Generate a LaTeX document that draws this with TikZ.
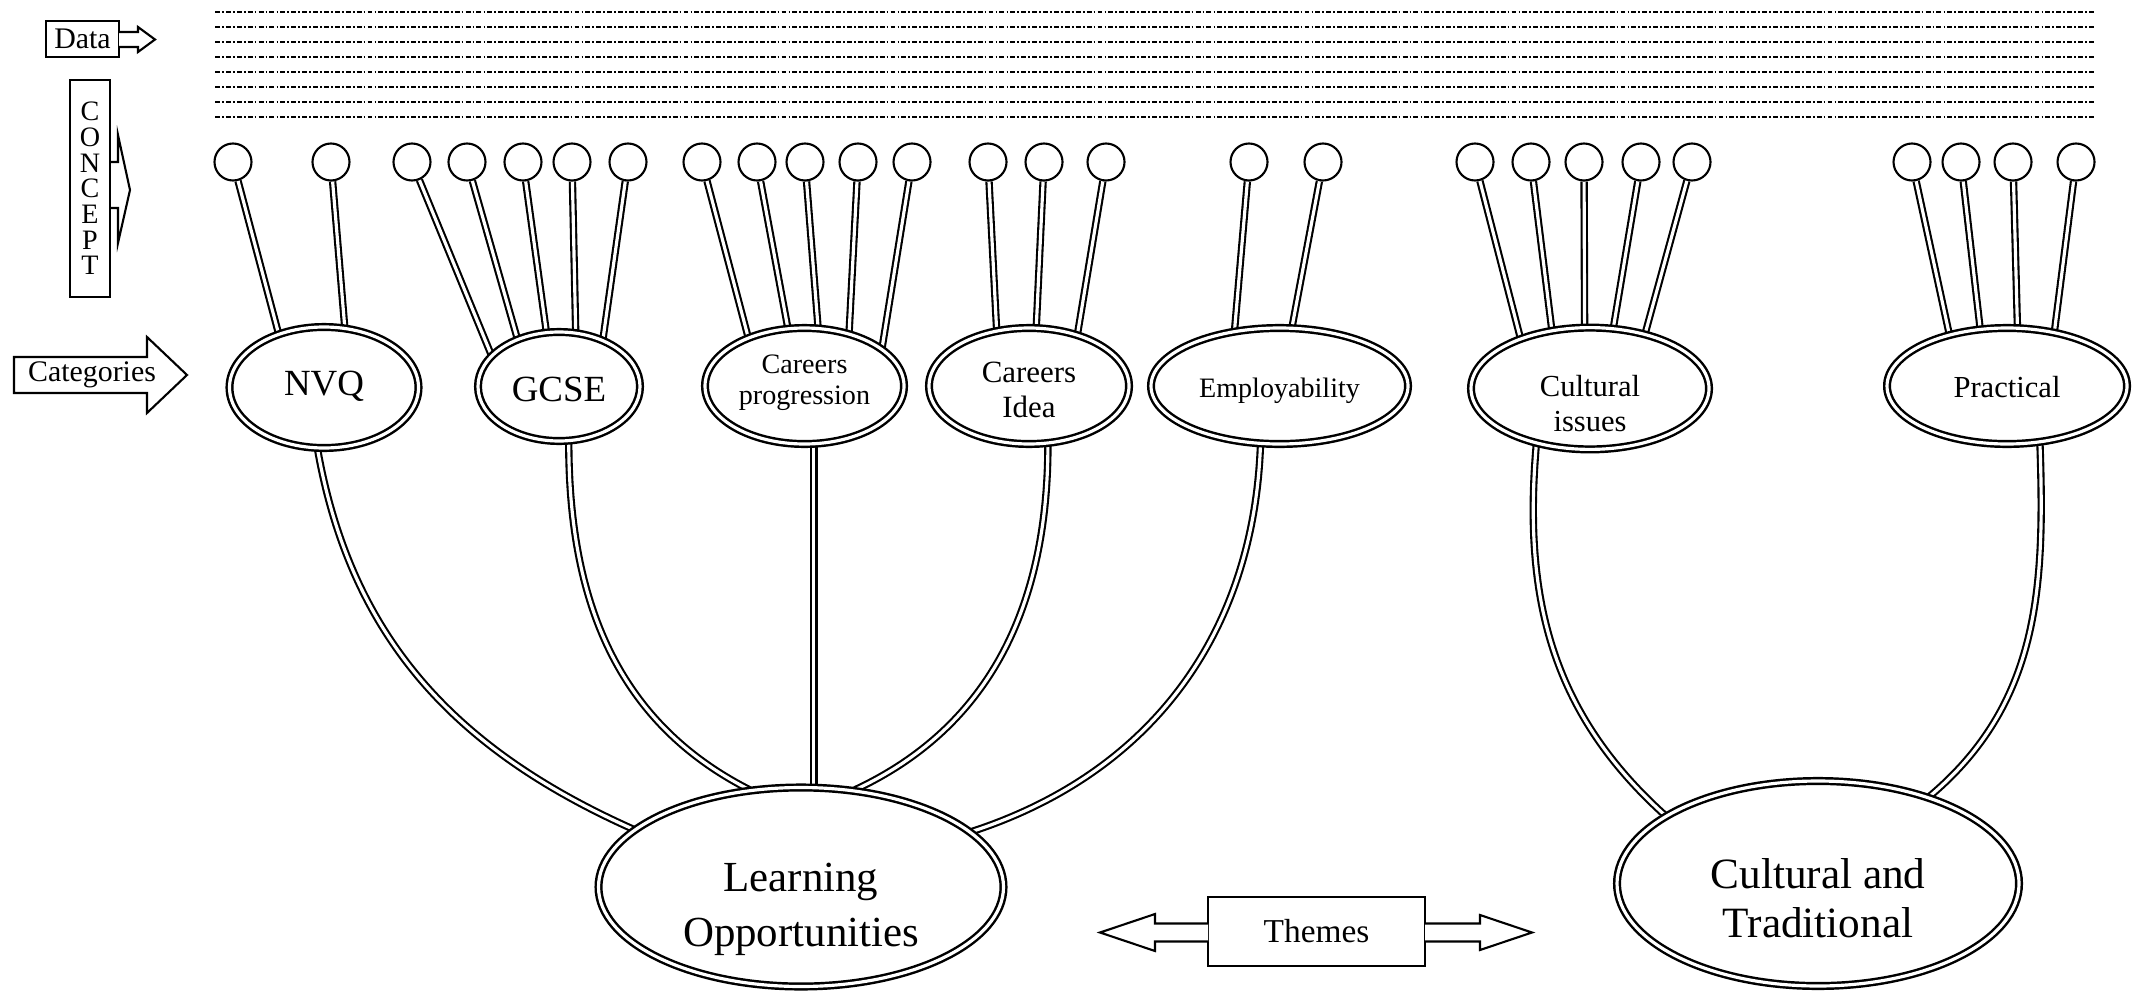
\documentclass[tikz,border=0pt]{standalone}
\usepackage{fontspec}
\setmainfont{Liberation Serif}
\usetikzlibrary{shapes.geometric}
\usetikzlibrary{backgrounds}

\tikzset{
	category/.style={draw, ellipse, line width=0.7pt, double, double distance=0.9pt, fill=white,
		inner sep=0pt, align=center, font=\fontsize{8.7}{10}\selectfont},
	bead/.style={draw, circle, line width=0.6pt, fill=white, minimum size=0.37cm, inner sep=0pt},
	stick/.style={line width=0.6pt, double, double distance=0.9pt},
	dataline/.style={line width=0.6pt, dash pattern=on 1.4pt off 0.6pt on 0.5pt off 0.6pt},
	tag/.style={draw, line width=0.6pt, fill=white, inner sep=0pt},
	pointer/.style={draw, line width=0.6pt, fill=white, line join=miter}
}

\begin{document}
\begin{tikzpicture}
	\useasboundingbox (0,0) rectangle (21.34,9.95);
	
	\draw[dataline] (2.15,9.83) -- (20.95,9.83); \draw[dataline] (2.15,9.68) -- (20.95,9.68);
	\draw[dataline] (2.15,9.53) -- (20.95,9.53); \draw[dataline] (2.15,9.38) -- (20.95,9.38);
	\draw[dataline] (2.15,9.23) -- (20.95,9.23); \draw[dataline] (2.15,9.08) -- (20.95,9.08);
	\draw[dataline] (2.15,8.93) -- (20.95,8.93); \draw[dataline] (2.15,8.78) -- (20.95,8.78);
	
	\node[tag, minimum width=0.73cm, minimum height=0.36cm, font=\fontsize{8.5}{10}\selectfont] (data) at (0.825,9.56) {Data};
	\draw[pointer] (1.19,9.63) -- (1.38,9.63) -- (1.38,9.68) -- (1.55,9.555) -- (1.38,9.43) -- (1.38,9.48) -- (1.19,9.48);
	
	\draw[pointer] (1.10,8.33) -- (1.18,8.33) -- (1.18,8.60) -- (1.30,8.05) -- (1.18,7.52) -- (1.18,7.87) -- (1.10,7.87);
	\node[tag, minimum width=0.40cm, minimum height=2.17cm, align=center, font=\fontsize{8}{7.3}\selectfont] (concept) at (0.90,8.065) {C\\O\\N\\C\\E\\P\\T};
	
	\draw[pointer] (0.14,6.38) -- (1.47,6.38) -- (1.47,6.58) -- (1.87,6.20) -- (1.47,5.82) -- (1.47,6.02) -- (0.14,6.02) -- cycle;
	\node[font=\fontsize{8.5}{10}\selectfont] (categ) at (0.92,6.20) {Categories};
	
	\node[category, minimum width=1.89cm, minimum height=1.21cm, font=\fontsize{10.5}{12}\selectfont, text height=6.9pt, text depth=2.6pt] (nvq) at (3.24,6.075) {NVQ};
	\node[category, minimum width=1.62cm, minimum height=1.09cm, font=\fontsize{10.5}{12}\selectfont, text height=9pt, text depth=0.2pt] (gcse) at (5.59,6.085) {GCSE};
	\node[category, minimum width=1.99cm, minimum height=1.16cm, font=\fontsize{8}{9.1}\selectfont, text height=12pt, text depth=1.2pt] (cprog) at (8.045,6.09) {Careers\\progression};
	\node[category, minimum width=2.00cm, minimum height=1.16cm, font=\fontsize{8.8}{10}\selectfont, text height=19pt, text depth=0.8pt] (cidea) at (10.29,6.09) {Careers\\Idea};
	\node[category, minimum width=2.57cm, minimum height=1.16cm, font=\fontsize{8}{9}\selectfont, text height=8pt, text depth=1.7pt] (employ) at (12.795,6.09) {Employability};
	\node[category, minimum width=2.38cm, minimum height=1.19cm, text height=24.5pt, text depth=0pt] (cultiss) at (15.90,6.065) {Cultural\\issues};
	\node[category, minimum width=2.40cm, minimum height=1.16cm, text height=6.3pt, text depth=0pt] (pract) at (20.07,6.09) {Practical};
	
	\node[category, minimum width=4.05cm, minimum height=1.99cm, font=\fontsize{12.2}{15.4}\selectfont, text height=34.6pt, text depth=1pt] (learn) at (8.01,1.08) {Learning\\Opportunities};
	\node[category, minimum width=4.02cm, minimum height=2.05cm, font=\fontsize{12.3}{14.2}\selectfont, text height=32pt, text depth=1pt] (cultrad) at (18.18,1.115) {Cultural and\\Traditional};
	
	\node[tag, minimum width=2.17cm, minimum height=0.69cm, font=\fontsize{9.5}{11}\selectfont] (themes) at (13.165,0.635) {Themes};
	\draw[pointer] (12.08,0.715) -- (11.55,0.715) -- (11.55,0.81) -- (11.00,0.625) -- (11.55,0.44) -- (11.55,0.535) -- (12.08,0.535);
	\draw[pointer] (14.25,0.715) -- (14.80,0.715) -- (14.80,0.80) -- (15.32,0.625) -- (14.80,0.45) -- (14.80,0.535) -- (14.25,0.535);
	
	\node[bead] (nvq1) at (2.33,8.33) {}; \node[bead] (nvq2) at (3.31,8.33) {};
	\node[bead] (gcse1) at (4.12,8.33) {}; \node[bead] (gcse2) at (4.67,8.33) {}; \node[bead] (gcse3) at (5.23,8.33) {};
	\node[bead] (gcse4) at (5.72,8.33) {}; \node[bead] (gcse5) at (6.28,8.33) {};
	\node[bead] (cprog1) at (7.02,8.33) {}; \node[bead] (cprog2) at (7.57,8.33) {}; \node[bead] (cprog3) at (8.05,8.33) {};
	\node[bead] (cprog4) at (8.58,8.33) {}; \node[bead] (cprog5) at (9.12,8.33) {};
	\node[bead] (cidea1) at (9.88,8.33) {}; \node[bead] (cidea2) at (10.44,8.33) {}; \node[bead] (cidea3) at (11.06,8.33) {};
	\node[bead] (employ1) at (12.49,8.33) {}; \node[bead] (employ2) at (13.23,8.33) {};
	\node[bead] (cultiss1) at (14.75,8.33) {}; \node[bead] (cultiss2) at (15.31,8.33) {}; \node[bead] (cultiss3) at (15.84,8.33) {};
	\node[bead] (cultiss4) at (16.41,8.33) {}; \node[bead] (cultiss5) at (16.92,8.33) {};
	\node[bead] (pract1) at (19.12,8.33) {}; \node[bead] (pract2) at (19.61,8.33) {}; \node[bead] (pract3) at (20.13,8.33) {};
	\node[bead] (pract4) at (20.76,8.33) {};
	
	\begin{scope}[on background layer]
		\draw[stick] (nvq1) -- (nvq.130); \draw[stick] (nvq2) -- (nvq.71);
		\draw[stick] (gcse1) -- (gcse.155); \draw[stick] (gcse2) -- (gcse.131); \draw[stick] (gcse3) -- (gcse.103);
		\draw[stick] (gcse4) -- (gcse.73); \draw[stick] (gcse5) -- (gcse.47);
		\draw[stick] (cprog1) -- (cprog.139); \draw[stick] (cprog2) -- (cprog.106); \draw[stick] (cprog3) -- (cprog.77);
		\draw[stick] (cprog4) -- (cprog.50); \draw[stick] (cprog5) -- (cprog.26);
		\draw[stick] (cidea1) -- (cidea.120); \draw[stick] (cidea2) -- (cidea.83); \draw[stick] (cidea3) -- (cidea.47);
		\draw[stick] (employ1) -- (employ.129); \draw[stick] (employ2) -- (employ.78);
		\draw[stick] (cultiss1) -- (cultiss.144); \draw[stick] (cultiss2) -- (cultiss.123); \draw[stick] (cultiss3) -- (cultiss.95);
		\draw[stick] (cultiss4) -- (cultiss.69); \draw[stick] (cultiss5) -- (cultiss.45);
		\draw[stick] (pract1) -- (pract.138); \draw[stick] (pract2) -- (pract.115); \draw[stick] (pract3) -- (pract.80);
		\draw[stick] (pract4) -- (pract.49);
		
		\draw[stick] (nvq.-96) to[out=-80,in=156] (learn.161);
		\draw[stick] (gcse.-80) to[out=-90,in=153] (learn.118);
		\draw[stick] (cprog.-81) -- (cprog.-81 |- learn.north);
		\draw[stick] (cidea.-72) to[out=-90,in=25] (learn.61);
		\draw[stick] (employ.-108) to[out=-92,in=18] (learn.18);
		\draw[stick] (cultiss.-134) to[out=-95,in=138] (cultrad.156);
		\draw[stick] (pract.-60) to[out=-88,in=40] (cultrad.38);
	\end{scope}
	
\end{tikzpicture}
\end{document}
